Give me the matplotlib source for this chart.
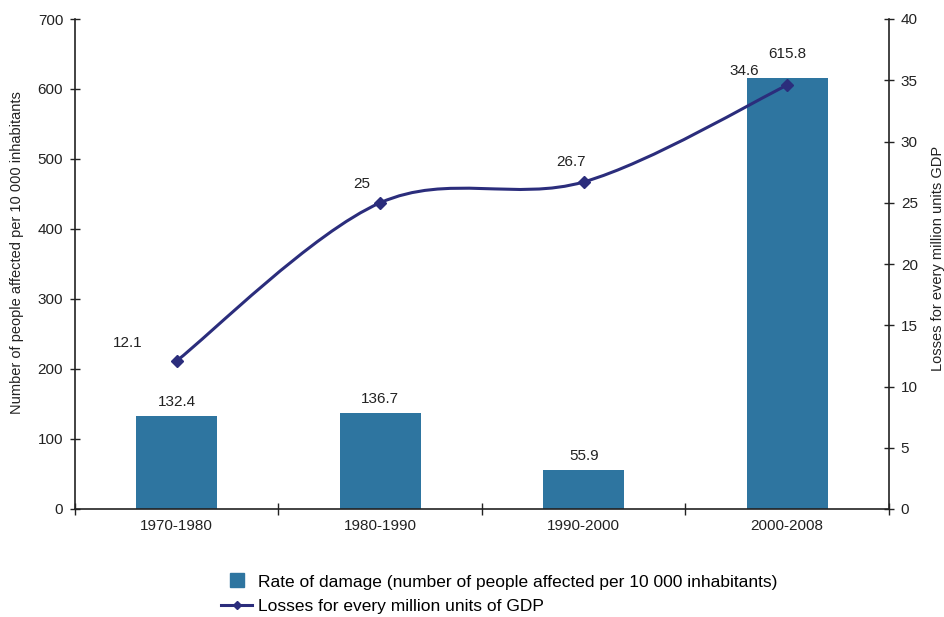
import matplotlib
matplotlib.use("Agg")
import matplotlib.pyplot as plt
from matplotlib.path import Path
from matplotlib.patches import PathPatch
from matplotlib.lines import Line2D
import numpy as np

plt.rcParams['font.family'] = ['Liberation Sans', 'DejaVu Sans']

periods = ["1970-1980", "1980-1990", "1990-2000", "2000-2008"]
affected_rate = [132.4, 136.7, 55.9, 615.8]
gdp_losses = [12.1, 25, 26.7, 34.6]

left_ticks = [0, 100, 200, 300, 400, 500, 600, 700]
right_ticks = [0, 5, 10, 15, 20, 25, 30, 35, 40]

bar_color = "#2E75A0"
line_color = "#2B2D7C"
text_color = "#222222"
fs = 11

fig = plt.figure(figsize=(9.45, 6.17), dpi=100)
ax = fig.add_axes([75 / 945, 1 - 509 / 617, (889 - 75) / 945, (509 - 19) / 617])
ax2 = ax.twinx()

x = np.arange(len(periods))
ax.bar(x, affected_rate, width=0.40, color=bar_color, zorder=2)
ax.set_xlim(-0.5, len(periods) - 0.5)
ax.set_ylim(0, 700)
ax.set_yticks(left_ticks)
ax2.set_ylim(0, 40)
ax2.set_yticks(right_ticks)

# Smoothed line: Catmull-Rom style cubic Bezier segments through the points
pts = np.column_stack([x, gdp_losses]).astype(float)
n = len(pts)
verts = [tuple(pts[0])]
codes = [Path.MOVETO]
for i in range(n - 1):
    p0 = pts[i - 1] if i > 0 else pts[i]
    p1 = pts[i]
    p2 = pts[i + 1]
    p3 = pts[i + 2] if i + 2 < n else pts[i + 1]
    c1 = p1 + (p2 - p0) / 6.0
    c2 = p2 - (p3 - p1) / 6.0
    verts += [tuple(c1), tuple(c2), tuple(p2)]
    codes += [Path.CURVE4, Path.CURVE4, Path.CURVE4]
ax2.add_patch(PathPatch(Path(verts, codes), facecolor="none",
                        edgecolor=line_color, lw=2.2, zorder=3))
ax2.plot(x, gdp_losses, linestyle="none", marker="D", markersize=6,
         color=line_color, zorder=4)

# Value labels
bar_offsets = [(0, 5), (0, 5), (0, 5), (0, 12.5)]
for xi, v, off in zip(x, affected_rate, bar_offsets):
    ax.annotate(f"{v:g}", (xi, v), xytext=off, textcoords="offset points",
                ha="center", va="bottom", fontsize=fs, color=text_color)
line_offsets = [(-35, 12.5), (-13.5, 13.5), (-9.5, 14.5), (-31, 10.5)]
for xi, v, off in zip(x, gdp_losses, line_offsets):
    ax2.annotate(f"{v:g}", (xi, v), xytext=off, textcoords="offset points",
                 ha="center", va="center", fontsize=fs, color=text_color)

# Axes styling
for a in (ax, ax2):
    a.spines["top"].set_visible(False)
    for s in a.spines.values():
        s.set_color("#222222")
        s.set_linewidth(1.2)
ax.spines["right"].set_visible(False)
ax2.spines["left"].set_visible(False)
ax2.spines["bottom"].set_visible(False)

ax.set_xticks(np.arange(-0.5, len(periods) + 0.5, 1.0))
ax.set_xticklabels([])
ax.set_xticks(x, minor=True)
ax.set_xticklabels(periods, minor=True)
ax.tick_params(axis="x", which="major", direction="inout", length=9, width=1.0, color="#222222")
ax.tick_params(axis="x", which="minor", length=0, pad=7, labelsize=fs, labelcolor=text_color)
ax.tick_params(axis="y", direction="inout", length=7, width=1.0, labelsize=fs,
               labelcolor=text_color, color="#222222", pad=5)
ax2.tick_params(axis="y", direction="inout", length=7, width=1.0, labelsize=fs,
                labelcolor=text_color, color="#222222", pad=5)

# Axis titles
fig.text(17 / 945, 1 - 253 / 617, "Number of people affected per 10 000 inhabitants",
         rotation=90, ha="center", va="center", fontsize=10.5, color=text_color)
fig.text(938 / 945, 1 - 258 / 617, "Losses for every million units GDP",
         rotation=90, ha="center", va="center", fontsize=10.5, color=text_color)

handles = [
    Line2D([0], [0], linestyle="none", marker="s", markersize=10.5,
           markerfacecolor=bar_color, markeredgecolor=bar_color,
           label="Rate of damage (number of people affected per 10 000 inhabitants)"),
    Line2D([0], [0], color=line_color, lw=2.2, marker="D", markersize=4,
           label="Losses for every million units of GDP"),
]
fig.legend(handles=handles, loc="center", bbox_to_anchor=(499 / 945, 1 - 594 / 617),
           frameon=False, fontsize=12.5, handlelength=1.8, handleheight=1.0,
           handletextpad=0.3, labelspacing=0.42, borderpad=0, ncol=1)

fig.savefig("out.png", dpi=100)
